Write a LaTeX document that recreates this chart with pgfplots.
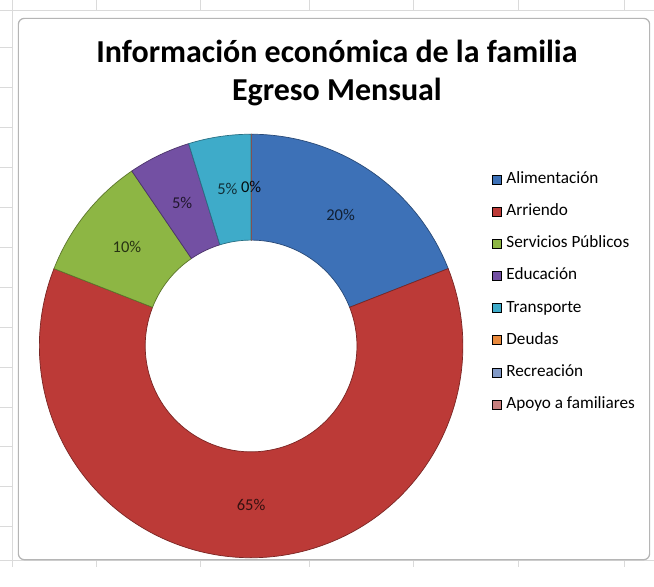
\documentclass[border=0pt]{standalone}
\usepackage{fontspec}
\setmainfont{Carlito}
\usepackage{pgfplots}
\usepackage{pgfplotstable}
\pgfplotsset{compat=1.18}

\definecolor{col0}{HTML}{3D71B7}
\definecolor{col1}{HTML}{BC3A37}
\definecolor{col2}{HTML}{8DB644}
\definecolor{col3}{HTML}{7350A3}
\definecolor{col4}{HTML}{3EABC9}
\definecolor{col5}{HTML}{E8893C}
\definecolor{col6}{HTML}{8199C6}
\definecolor{col7}{HTML}{C77F7E}
\definecolor{gridgray}{HTML}{DADADA}
\definecolor{framegray}{HTML}{B5B5B5}

\pgfplotstableread{
name value
Alimentacion 20
Arriendo 65
Servicios 10
Educacion 5
Transporte 5
Deudas 0
Recreacion 0
Apoyo 0
}\egresos

\begin{document}
\begin{tikzpicture}
% cumulative angles from the table
\gdef\total{0}
\foreach \i in {0,...,7}{%
  \pgfplotstablegetelem{\i}{value}\of\egresos
  \pgfmathsetmacro\t{\total+\pgfplotsretval}%
  \global\let\total\t
}
\gdef\cum{0}
\foreach \i in {0,...,7}{%
  \pgfplotstablegetelem{\i}{value}\of\egresos
  \edef\v{\pgfplotsretval}%
  \pgfmathsetmacro\fa{\cum/\total}%
  \pgfmathsetmacro\a{90-360*\fa}%
  \pgfmathsetmacro\nc{\cum+\v}%
  \pgfmathsetmacro\fb{\nc/\total}%
  \pgfmathsetmacro\b{90-360*\fb}%
  \pgfmathsetmacro\m{(\a+\b)/2}%
  \pgfmathtruncatemacro\vi{\v}%
  \expandafter\xdef\csname angA\i\endcsname{\a}%
  \expandafter\xdef\csname angB\i\endcsname{\b}%
  \expandafter\xdef\csname angM\i\endcsname{\m}%
  \expandafter\xdef\csname val\i\endcsname{\vi}%
  \global\let\cum\nc
}
\begin{axis}[
  x=1pt, y=1pt,
  xmin=0, xmax=654, ymin=0, ymax=567,
  hide axis, clip=false,
  legend style={at={(axis cs:492,396)}, anchor=north west, draw=none, fill=none,
    inner sep=0pt, font=\fontsize{17.2}{20}\selectfont, row sep=16.2pt,
    nodes={inner sep=0pt, text height=12pt, text depth=4pt}},
  legend cell align=left,
  /tikz/every odd column/.append style={column sep=5pt},
  legend image code/.code={\fill[#1] (0pt,-4.5pt) rectangle (9pt,4.5pt);},
]
% background and spreadsheet grid
\fill[white] (axis cs:0,0) rectangle (axis cs:654,567);
\draw[gridgray, line width=0.8pt] (axis cs:0,557) -- (axis cs:654,557);
\draw[gridgray, line width=0.8pt] (axis cs:0,6) -- (axis cs:654,6);
\pgfplotsinvokeforeach{96,200,309,413,519,625}{
  \draw[gridgray, line width=0.8pt] (axis cs:#1,557) -- (axis cs:#1,567);
  \draw[gridgray, line width=0.8pt] (axis cs:#1,0) -- (axis cs:#1,6);
}
\pgfplotsinvokeforeach{40,80,120,160,200,240,280,320,360,400,440,480,520}{
  \draw[gridgray, line width=0.8pt] (axis cs:0,#1) -- (axis cs:12,#1);
}
\draw[gridgray, line width=0.8pt] (axis cs:12,0) -- (axis cs:12,567);
% chart frame
\draw[framegray, line width=1.2pt, rounded corners=6pt, fill=white]
  (axis cs:18,7) rectangle (axis cs:650,549);
% title
\node[anchor=base, font=\fontsize{32}{38}\selectfont\bfseries] at (axis cs:337,505) {Información económica de la familia};
\node[anchor=base, font=\fontsize{32}{38}\selectfont\bfseries] at (axis cs:337,467) {Egreso Mensual};
% donut wedges
\pgfplotsinvokeforeach{0,...,7}{
  \fill[col#1, draw=col#1!65!black, line width=0.7pt, line join=round]
    (axis cs:{251+212*cos(\csname angA#1\endcsname)},{221+212*sin(\csname angA#1\endcsname)})
    arc[start angle=\csname angA#1\endcsname, end angle=\csname angB#1\endcsname, radius=212pt]
    -- (axis cs:{251+106*cos(\csname angB#1\endcsname)},{221+106*sin(\csname angB#1\endcsname)})
    arc[start angle=\csname angB#1\endcsname, end angle=\csname angA#1\endcsname, radius=106pt]
    -- cycle;
}
% data labels (the three 0% labels coincide; one is drawn, darker)
\pgfplotsinvokeforeach{0,...,4}{
  \node[text=black, text opacity=0.72, font=\fontsize{16.5}{18}\selectfont]
    at (axis cs:{251+159*cos(\csname angM#1\endcsname)},{221+159*sin(\csname angM#1\endcsname)})
    {\csname val#1\endcsname\%};
}
\node[text=black, text opacity=0.92, font=\fontsize{16.5}{18}\selectfont]
    at (axis cs:{251+159*cos(\csname angM5\endcsname)},{221+159*sin(\csname angM5\endcsname)})
    {\csname val5\endcsname\%};
% legend
\addlegendimage{fill=col0}\addlegendentry{Alimentación}
\addlegendimage{fill=col1}\addlegendentry{Arriendo}
\addlegendimage{fill=col2}\addlegendentry{Servicios Públicos}
\addlegendimage{fill=col3}\addlegendentry{Educación}
\addlegendimage{fill=col4}\addlegendentry{Transporte}
\addlegendimage{fill=col5}\addlegendentry{Deudas}
\addlegendimage{fill=col6}\addlegendentry{Recreación}
\addlegendimage{fill=col7}\addlegendentry{Apoyo a familiares}
\end{axis}
\end{tikzpicture}
\end{document}
